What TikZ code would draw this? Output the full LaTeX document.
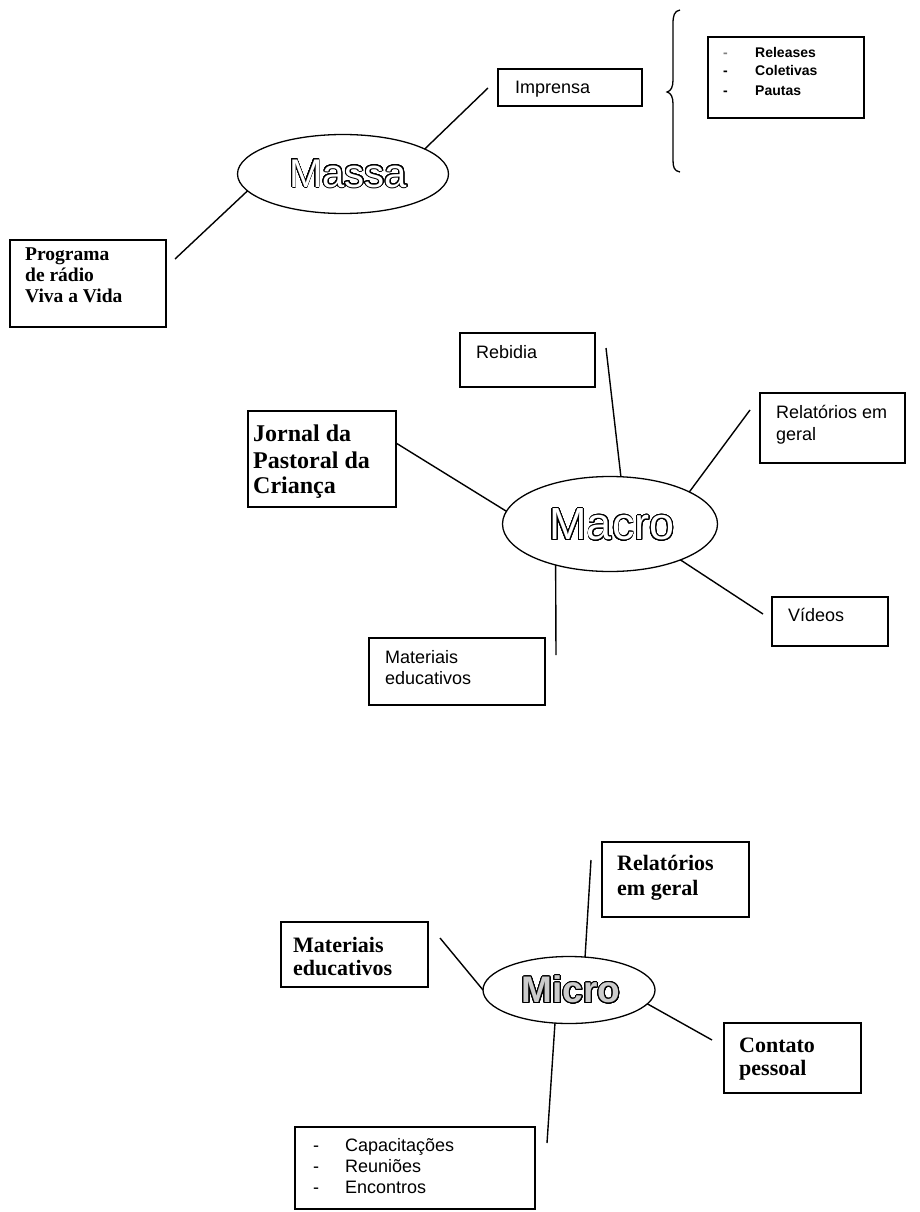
\documentclass[tikz,border=0pt]{standalone}
\usepackage{fontspec}
\usepackage[copies]{contour}
\usetikzlibrary{shapes.geometric,fit}
\newfontfamily\sansf{Liberation Sans}
\newfontfamily\seriff{Liberation Serif}
\contourlength{0.9pt}
\contournumber{32}
\begin{document}
\begin{tikzpicture}[x=1pt,y=-1pt,
  box/.style={draw,line width=1.3pt,inner sep=0pt,outer sep=0pt},
  link/.style={line width=1.4pt},
  oval/.style={ellipse,draw,line width=1.3pt,inner sep=0pt,outer sep=0pt},
  sl/.style={anchor=base west,inner sep=0pt,font=\sansf\fontsize{18pt}{22pt}\selectfont},
  ll/.style={anchor=base west,inner sep=0pt,font=\sansf\bfseries\fontsize{14pt}{16pt}\selectfont},
  tla/.style={anchor=base west,inner sep=0pt,font=\seriff\bfseries\fontsize{19.5pt}{21pt}\selectfont},
  tlb/.style={anchor=base west,inner sep=0pt,font=\seriff\bfseries\fontsize{24pt}{26pt}\selectfont},
  tlc/.style={anchor=base west,inner sep=0pt,font=\seriff\bfseries\fontsize{22pt}{24pt}\selectfont},
  big/.style={inner sep=0pt,text=white,font=\sansf\fontsize{#1}{#1}\selectfont}
]
\useasboundingbox[fill=white] (0,0) rectangle (920,1212);

% ---------------- Massa ----------------
\node[oval,minimum width=211pt,minimum height=79pt] (massa) at (343,174) {};
\node[big=40pt] (massat) at (348,174) {\contour{black}{Massa}};

\node[box,fit={(498,69) (642,106)}] (imprensa) {};
\node[sl] (imprensat) at (515,94) {Imprensa};

\node[box,fit={(708,37) (864,118)}] (lista) {};
\node[ll,text=gray] (d1) at (723,58) {-};
\node[ll] (l1) at (755,58) {Releases};
\node[ll] (d2) at (723,76) {-};
\node[ll] (l2) at (755,76) {Coletivas};
\node[ll] (d3) at (723,96) {-};
\node[ll] (l3) at (755,96) {Pautas};

\draw[line width=1.3pt] (680,10) .. controls (674,11) and (673,16) .. (673,24)
  -- (673,80) .. controls (673,87) and (671,91) .. (667,92)
  .. controls (671,93) and (673,97) .. (673,104)
  -- (673,160) .. controls (673,167) and (674,171) .. (680,172);

\node[box,fit={(10,240) (166,327)}] (programa) {};
\node[tla] (p1) at (25,260.5) {Programa};
\node[tla] (p2) at (25,281.5) {de rádio};
\node[tla] (p3) at (25,302.5) {Viva a Vida};

\coordinate (cmi) at (488,88);
\coordinate (cmp) at (175,259);
\draw[link] (massa.17) -- (cmi);
\draw[link] (massa.190.6) -- (cmp);

% ---------------- Macro ----------------
\node[oval,minimum width=215pt,minimum height=95pt] (macro) at (610,524) {};
\node[big=45pt] (macrot) at (612,525) {\contour{black}{Macro}};

\node[box,fit={(460,333) (595,387)}] (rebidia) {};
\node[sl] (rebidiat) at (476,358) {Rebidia};

\node[box,fit={(760,393) (905,463)}] (relmac) {};
\node[sl] (relmac1) at (776,418) {Relatórios em};
\node[sl] (relmac2) at (776,440) {geral};

\node[box,fit={(772,597) (888,646)}] (videos) {};
\node[sl] (videost) at (788,621) {Vídeos};

\node[box,fit={(369,638) (545,705)}] (matmac) {};
\node[sl] (matmac1) at (385,663) {Materiais};
\node[sl] (matmac2) at (385,684) {educativos};

\node[box,fit={(248,411) (396,507)}] (jornal) {};
\node[tlb] (j1) at (253,441) {Jornal da};
\node[tlb] (j2) at (253,468) {Pastoral da};
\node[tlb] (j3) at (253,493) {Criança};

\coordinate (cre) at (606,348);
\coordinate (crm) at (750,410);
\coordinate (cvi) at (763,614);
\coordinate (cma) at (556,655);
\coordinate (cjo) at (396,443);
\draw[link] (macro.77) -- (cre);
\draw[link] (macro.22) -- (crm);
\draw[link] (macro.-27.5) -- (cvi);
\draw[link] (macro.217) -- (cma);
\draw[link] (macro.173) -- (cjo);

% ---------------- Micro ----------------
\node[oval,minimum width=172pt,minimum height=67pt] (micro) at (569,990) {};
\node[big=37pt,text=gray!40,font=\sansf\bfseries\fontsize{37pt}{37pt}\selectfont] (microt) at (571,990) {\contour{black}{Micro}};

\node[box,fit={(602,842) (749,917)}] (relmic) {};
\node[tlc] (relmic1) at (617,870.5) {Relatórios};
\node[tlc] (relmic2) at (617,895.5) {em geral};

\node[box,fit={(281,922) (428,987)}] (matmic) {};
\node[tlc] (matmic1) at (293,952.5) {Materiais};
\node[tlc] (matmic2) at (293,975.5) {educativos};

\node[box,fit={(724,1023) (861,1093)}] (contato) {};
\node[tlc] (contato1) at (739,1052.5) {Contato};
\node[tlc] (contato2) at (739,1075.5) {pessoal};

\node[box,fit={(295,1127) (535,1209)}] (capac) {};
\node[sl] (e1) at (313,1151) {-};
\node[sl] (c1) at (345,1151) {Capacitações};
\node[sl] (e2) at (313,1172) {-};
\node[sl] (c2) at (345,1172) {Reuniões};
\node[sl] (e3) at (313,1193) {-};
\node[sl] (c3) at (345,1193) {Encontros};

\coordinate (cmr) at (591,860);
\coordinate (cmm) at (440,938);
\coordinate (cmc) at (712,1040);
\coordinate (cmk) at (547,1143);
\draw[link] (micro.64) -- (cmr);
\draw[link] (micro.180) -- (cmm);
\draw[link] (micro.-10) -- (cmc);
\draw[link] (micro.247) -- (cmk);
\end{tikzpicture}
\end{document}
